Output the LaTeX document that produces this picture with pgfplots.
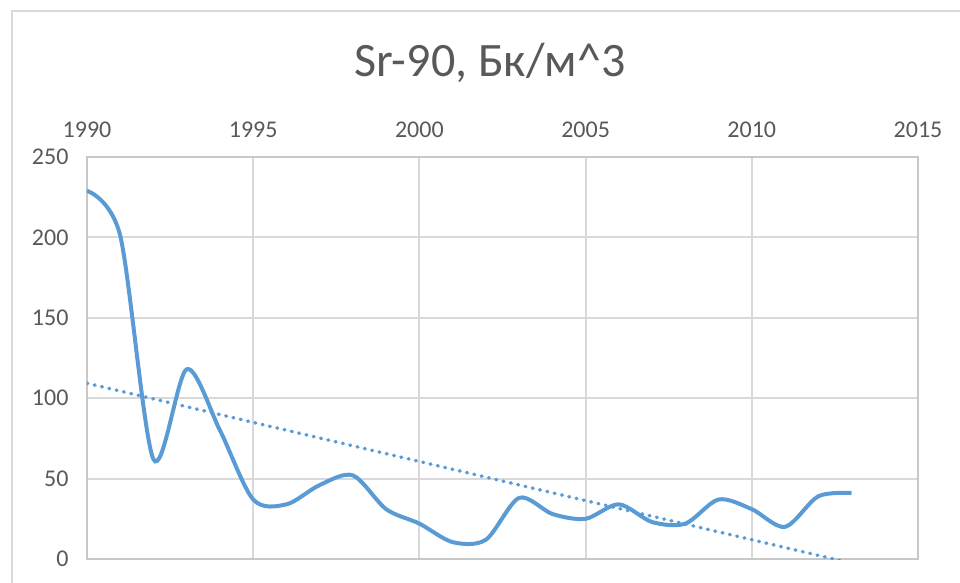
\documentclass[border=0pt]{standalone}
\usepackage{pgfplots}
\pgfplotsset{compat=1.18}
\usepackage{fontspec}
\setmainfont{Carlito}
\definecolor{txt}{HTML}{595959}
\definecolor{grd}{HTML}{D9D9D9}
\definecolor{axl}{HTML}{C8C8C8}
\definecolor{ser}{HTML}{5B9BD5}
\begin{document}
\begin{tikzpicture}
\begin{axis}[
  at={(0,0)}, anchor=south west,
  scale only axis, width=831pt, height=402pt,
  xmin=1990, xmax=2015, ymin=0, ymax=250,
  xtick={1990,1995,...,2015}, ytick={0,50,...,250},
  xticklabel pos=upper,
  grid=major, major grid style={draw=grd, line width=2pt},
  axis line style={draw=axl, line width=2pt},
  major tick length=0pt,
  tick label style={font=\fontsize{24}{29}\selectfont, text=txt},
  xticklabel style={yshift=16pt},
  yticklabel style={xshift=-15pt},
  /pgf/number format/assume math mode=true,
  /pgf/number format/1000 sep={},
  title={Sr-90, Бк/м\textasciicircum 3},
  title style={font=\fontsize{48}{56}\selectfont, text=txt, at={(0.485,1)}, anchor=base, yshift=75pt},
]
\addplot[ser, line width=4pt, smooth, tension=0.5] coordinates {
(1990,229) (1991,201) (1992,62) (1993,118) (1994,80) (1995,37) (1996,34)
(1997,46) (1998,52) (1999,31) (2000,22) (2001,10.5) (2002,12) (2003,38)
(2004,28) (2005,25) (2006,34) (2007,23) (2008,22) (2009,37) (2010,31)
(2011,20) (2012,39) (2013,41)};
\addplot[ser, line width=3.5pt, line cap=round, dash pattern=on 0.8pt off 6.7pt] coordinates {
(1990,109.3) (2013,-2.6)};
\end{axis}
\draw[grd, line width=2pt] (-75pt,-30pt) -- (-75pt,548pt) -- (880pt,548pt);
\pgfresetboundingbox
\useasboundingbox (-87pt,-23pt) rectangle (873pt,559pt);
\end{tikzpicture}
\end{document}
